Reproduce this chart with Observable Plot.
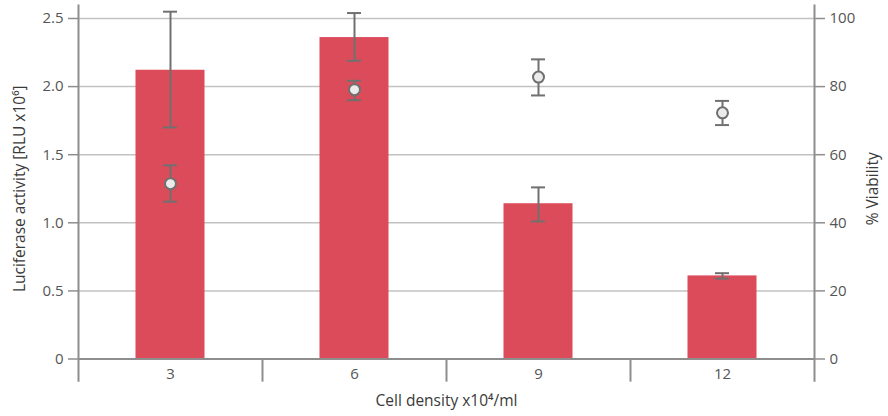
<!DOCTYPE html>
<html>
<head>
<meta charset="utf-8">
<script src="https://cdn.jsdelivr.net/npm/d3@7"></script>
<script src="https://cdn.jsdelivr.net/npm/@observablehq/plot@0.6"></script>
<style>
  html, body { margin: 0; padding: 0; background: white; }
</style>
</head>
<body>
<div id="chart"></div>
<script>
const categories = ["3", "6", "9", "12"];
const luciferase = [2.12, 2.36, 1.14, 0.61];
const luciferaseLow = [1.70, 2.19, 1.01, 0.59];
const luciferaseHigh = [2.55, 2.54, 1.26, 0.63];
const viability = [51.5, 79.1, 82.8, 72.3];
const viabilityLow = [46.2, 76.0, 77.4, 68.7];
const viabilityHigh = [56.9, 81.7, 88.0, 75.8];
const leftTicks = [0, 0.5, 1.0, 1.5, 2.0, 2.5];
const rightTicks = [0, 20, 40, 60, 80, 100];
const xTitle = "Cell density x10\u2074/ml";
const yLeftTitle = "Luciferase activity [RLU x10\u2076]";
const yRightTitle = "% Viability";

const ratio = 2.5 / 100; // viability (%) mapped onto the luciferase axis
const data = categories.map((c, i) => ({
  cat: c,
  luc: luciferase[i], lucLow: luciferaseLow[i], lucHigh: luciferaseHigh[i],
  via: viability[i] * ratio, viaLow: viabilityLow[i] * ratio, viaHigh: viabilityHigh[i] * ratio
}));

const W = 888, H = 416, mL = 78, mR = 74, mT = 18, mB = 57.5;
const bw = (W - mL - mR) / categories.length;
const barW = 69, capW = 14;
const axisColor = "#8e8e8e", gridColor = "#c2c2c2", errColor = "#707070", textColor = "#555";

const chart = Plot.plot({
  width: W, height: H,
  marginLeft: mL, marginRight: mR, marginTop: mT, marginBottom: mB,
  style: { fontFamily: "'Open Sans', sans-serif", fontSize: "15px", color: textColor, background: "white" },
  x: { type: "band", domain: categories, padding: 0, axis: null },
  y: { domain: [0, 2.5], axis: null },
  marks: [
    Plot.ruleY(leftTicks.filter(d => d > 0), { stroke: gridColor, strokeWidth: 1.5 }),
    Plot.barY(data, { x: "cat", y: "luc", fill: "#dc4b59", insetLeft: (bw - barW) / 2, insetRight: (bw - barW) / 2 }),
    Plot.ruleX(data, { x: "cat", y1: "lucLow", y2: "lucHigh", stroke: errColor, strokeWidth: 2 }),
    Plot.tickY(data, { x: "cat", y: "lucLow", stroke: errColor, strokeWidth: 2, insetLeft: (bw - capW) / 2, insetRight: (bw - capW) / 2 }),
    Plot.tickY(data, { x: "cat", y: "lucHigh", stroke: errColor, strokeWidth: 2, insetLeft: (bw - capW) / 2, insetRight: (bw - capW) / 2 }),
    // axis lines
    Plot.ruleY([0], { stroke: axisColor, strokeWidth: 2 }),
    Plot.ruleX([categories[0]], { x: d => d, dx: -bw / 2, y1: () => -0.17, y2: () => 2.6, stroke: axisColor, strokeWidth: 2 }),
    Plot.ruleX([categories[categories.length - 1]], { x: d => d, dx: bw / 2, y1: () => -0.17, y2: () => 2.6, stroke: axisColor, strokeWidth: 2 }),
    Plot.ruleX(categories.slice(1), { x: d => d, dx: -bw / 2, y1: () => 0, y2: () => -0.17, stroke: axisColor, strokeWidth: 2 }),
    Plot.axisY(leftTicks, { anchor: "left", tickSize: 10, tickPadding: 5, stroke: axisColor, strokeWidth: 1.5, fill: textColor, fontSize: 15, label: null,
      tickFormat: d => d === 0 ? "0" : d.toFixed(1) }),
    Plot.axisY(rightTicks.map(v => v * ratio), { anchor: "right", tickSize: 10, tickPadding: 5, stroke: axisColor, strokeWidth: 1.5, fill: textColor, fontSize: 15, label: null,
      tickFormat: d => String(Math.round(d / ratio)) }),
    Plot.axisX({ anchor: "bottom", tickSize: 0, tickPadding: 9, fill: textColor, fontSize: 15, label: null }),
    // viability
    Plot.ruleX(data, { x: "cat", y1: "viaLow", y2: "viaHigh", stroke: errColor, strokeWidth: 2 }),
    Plot.tickY(data, { x: "cat", y: "viaLow", stroke: errColor, strokeWidth: 2, insetLeft: (bw - capW) / 2, insetRight: (bw - capW) / 2 }),
    Plot.tickY(data, { x: "cat", y: "viaHigh", stroke: errColor, strokeWidth: 2, insetLeft: (bw - capW) / 2, insetRight: (bw - capW) / 2 }),
    Plot.dot(data, { x: "cat", y: "via", r: 5.5, fill: "#ebebeb", stroke: errColor, strokeWidth: 2 }),
    // titles
    Plot.text([yLeftTitle], { frameAnchor: "left", textAnchor: "middle", dx: -58, rotate: -90, fontSize: 15.5, fill: "#3a3a3a" }),
    Plot.text([yRightTitle], { frameAnchor: "right", textAnchor: "middle", dx: 59, rotate: -90, fontSize: 15.5, fill: "#3a3a3a" }),
    Plot.text([xTitle], { frameAnchor: "bottom", textAnchor: "middle", dy: 47, fontSize: 15.5, fill: "#3a3a3a" })
  ]
});
document.getElementById("chart").appendChild(chart);
</script>
</body>
</html>
